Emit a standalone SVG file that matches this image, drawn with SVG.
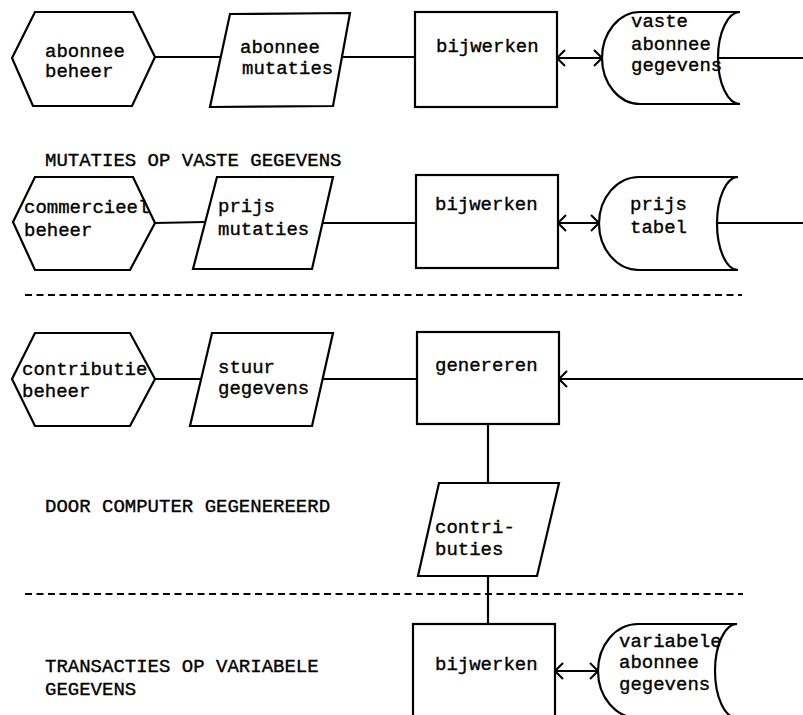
<svg xmlns="http://www.w3.org/2000/svg" width="803" height="715" viewBox="0 0 803 715">
<style>
.s{fill:#fff;stroke:#000;stroke-width:2.2;stroke-linejoin:miter}
.c{fill:none;stroke:#000;stroke-width:2.2}
.d{fill:none;stroke:#000;stroke-width:1.8;stroke-dasharray:7 4.5}
.t{font-family:"Liberation Mono","Courier New",monospace;font-size:19px;fill:#000;stroke:#000;stroke-width:0.35}
</style>
<defs>
<marker id="arr" viewBox="-11 -9 12 18" refX="0" refY="0" markerWidth="12" markerHeight="18" markerUnits="userSpaceOnUse" orient="auto-start-reverse">
<path d="M-8,-8 L0,0 L-8,8" fill="none" stroke="#000" stroke-width="2"/>
</marker>
</defs>
<rect width="803" height="715" fill="#fff"/>

<g id="connectors">
<line class="c" x1="155" y1="57" x2="221" y2="57"/>
<line class="c" x1="342" y1="57" x2="415" y2="57"/>
<line class="c" x1="557" y1="58" x2="602" y2="58" marker-start="url(#arr)" marker-end="url(#arr)"/>
<line class="c" x1="718" y1="58" x2="803" y2="58"/>
<line class="c" x1="155" y1="223" x2="205" y2="222"/>
<line class="c" x1="323" y1="223" x2="416" y2="223"/>
<line class="c" x1="558" y1="223" x2="599" y2="223" marker-start="url(#arr)" marker-end="url(#arr)"/>
<line class="c" x1="717" y1="223" x2="803" y2="223"/>
<line class="c" x1="155" y1="379" x2="201" y2="379"/>
<line class="c" x1="323" y1="379" x2="417" y2="379"/>
<line class="c" x1="803" y1="379" x2="559" y2="379" marker-end="url(#arr)"/>
<line class="c" x1="488" y1="424" x2="488" y2="483"/>
<line class="c" x1="488" y1="576" x2="488" y2="624"/>
<line class="c" x1="555" y1="671" x2="598" y2="671" marker-start="url(#arr)" marker-end="url(#arr)"/>
</g>

<g id="separators">
<line class="d" x1="25" y1="295" x2="742" y2="295"/>
<line class="d" x1="25" y1="594" x2="743" y2="594"/>
</g>

<g id="labels">
<text class="t" x="45" y="166">MUTATIES OP VASTE GEGEVENS</text>
<text class="t" x="45" y="512">DOOR COMPUTER GEGENEREERD</text>
<text class="t" x="45" y="672">TRANSACTIES OP VARIABELE</text>
<text class="t" x="45" y="695">GEGEVENS</text>
</g>

<g id="abonnee-beheer">
<polygon class="s" points="35,12 133,12 155,57 132,106 33,106 12,58"/>
<text class="t" x="45" y="57">abonnee</text>
<text class="t" x="45" y="77">beheer</text>
</g>
<g id="abonnee-mutaties">
<polygon class="s" points="230,14 350,13 333,106 210,107"/>
<text class="t" x="240" y="53">abonnee</text>
<text class="t" x="242" y="74">mutaties</text>
</g>
<g id="bijwerken-1">
<rect class="s" x="415" y="12" width="142" height="95"/>
<text class="t" x="436" y="52">bijwerken</text>
</g>
<g id="vaste-abonnee-gegevens">
<path class="s" d="M740,12 L640,12 A38,46 0 0 0 602,58 A38,46 0 0 0 640,104 L740,104 A22,46 0 0 1 740,12 Z"/>
<text class="t" x="631" y="27">vaste</text>
<text class="t" x="631" y="50">abonnee</text>
<text class="t" x="631" y="71">gegevens</text>
</g>

<g id="commercieel-beheer">
<polygon class="s" points="35,177 133,177 155,223 130,270 35,270 13,222"/>
<text class="t" x="24" y="213">commercieel</text>
<text class="t" x="24" y="236">beheer</text>
</g>
<g id="prijs-mutaties">
<polygon class="s" points="217,177 333,177 312,269 193,269"/>
<text class="t" x="218" y="212">prijs</text>
<text class="t" x="218" y="235">mutaties</text>
</g>
<g id="bijwerken-2">
<rect class="s" x="416" y="175" width="142" height="93"/>
<text class="t" x="435" y="210">bijwerken</text>
</g>
<g id="prijs-tabel">
<path class="s" d="M738,177 L639,177 A40,46.5 0 0 0 599,223.5 A40,46.5 0 0 0 639,270 L738,270 A21,46.5 0 0 1 738,177 Z"/>
<text class="t" x="630" y="210">prijs</text>
<text class="t" x="630" y="233">tabel</text>
</g>

<g id="contributie-beheer">
<polygon class="s" points="35,333 130,333 155,379 130,426 35,426 12,379"/>
<text class="t" x="22" y="375">contributie</text>
<text class="t" x="22" y="397">beheer</text>
</g>
<g id="stuur-gegevens">
<polygon class="s" points="212,333 333,333 312,426 190,426"/>
<text class="t" x="218" y="373">stuur</text>
<text class="t" x="218" y="394">gegevens</text>
</g>
<g id="genereren">
<rect class="s" x="417" y="332" width="142" height="92"/>
<text class="t" x="435" y="371">genereren</text>
</g>
<g id="contributies">
<polygon class="s" points="439,483 559,483 537,576 418,576"/>
<text class="t" x="435" y="533">contri-</text>
<text class="t" x="435" y="555">buties</text>
</g>
<g id="bijwerken-3">
<rect class="s" x="413" y="624" width="142" height="110"/>
<text class="t" x="435" y="670">bijwerken</text>
</g>
<g id="variabele-abonnee-gegevens">
<path class="s" d="M737,624 L638,624 A40,47 0 0 0 598,671 A40,47 0 0 0 638,718 L737,718 A22,47 0 0 1 737,624 Z"/>
<text class="t" x="619" y="647">variabele</text>
<text class="t" x="619" y="668">abonnee</text>
<text class="t" x="619" y="690">gegevens</text>
</g>
</svg>
